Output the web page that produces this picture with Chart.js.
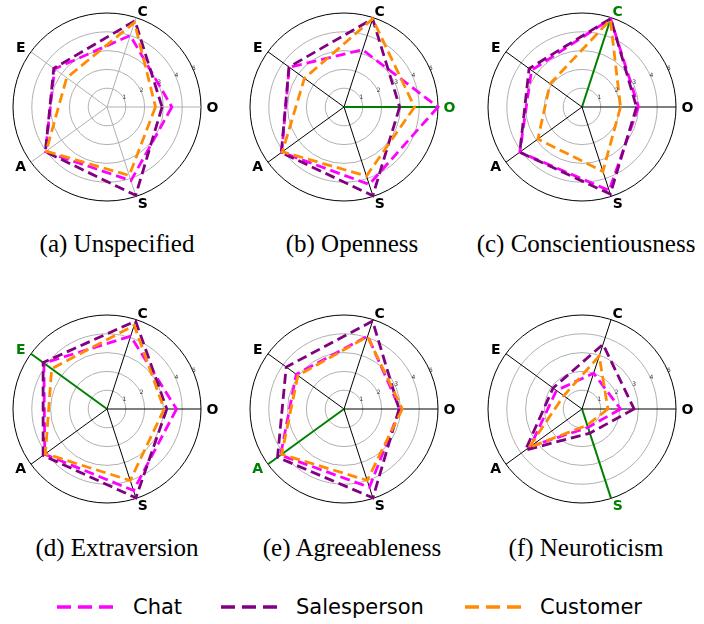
<!DOCTYPE html>
<html>
<head>
<meta charset="utf-8">
<script src="https://cdn.jsdelivr.net/npm/chart.js@4/dist/chart.umd.min.js"></script>
<style>
  html, body { margin: 0; padding: 0; background: #fff; }
  body { width: 704px; height: 624px; position: relative; overflow: hidden; }
  .plot { position: absolute; width: 230px; height: 230px; }
  .cap { position: absolute; width: 234px; text-align: center; font-family: "Liberation Serif", serif; font-size: 25px; line-height: 30px; color: #000; white-space: nowrap; }
  .leg-line { position: absolute; top: 600px; }
  .leg-text { position: absolute; top: 594px; font-family: "DejaVu Sans", sans-serif; font-size: 21px; line-height: 26px; color: #000; }
</style>
</head>
<body>
<div id="root"></div>
<script>
// trait axes, listed clockwise from the right (O at 3 o'clock)
const traits = ["O", "S", "A", "E", "C"];
const rTicks = [1, 2, 3, 4, 5];
const panels = ["(a) Unspecified", "(b) Openness", "(c) Conscientiousness", "(d) Extraversion", "(e) Agreeableness", "(f) Neuroticism"];
const focus = [null, "O", "C", "E", "A", "S"];

// values per panel, in the order of traits: O, S, A, E, C
const chat = [
  [3.45, 4.12, 4.05, 3.45, 4.0],
  [5.0, 4.33, 4.1, 3.6, 3.2],
  [3.0, 4.67, 4.09, 3.32, 4.93],
  [3.7, 4.56, 4.09, 4.15, 4.07],
  [2.98, 4.38, 4.17, 3.14, 4.08],
  [2.05, 1.03, 3.4, 1.68, 2.0],
];
const salesperson = [
  [2.93, 4.94, 4.05, 3.5, 4.82],
  [2.96, 4.96, 4.12, 3.62, 4.93],
  [2.9, 4.87, 4.09, 3.48, 4.95],
  [3.18, 4.97, 4.2, 4.2, 4.92],
  [2.93, 4.97, 4.37, 3.8, 4.92],
  [2.77, 1.35, 3.72, 1.9, 3.62],
];
const customer = [
  [2.58, 3.83, 4.0, 2.65, 4.73],
  [3.75, 3.86, 4.05, 2.6, 4.93],
  [2.05, 3.6, 2.9, 2.1, 4.88],
  [3.04, 4.0, 4.05, 3.64, 4.68],
  [3.1, 3.99, 4.1, 3.03, 4.05],
  [1.38, 0.9, 3.5, 1.2, 2.96],
];

const colors = { chat: "#ff00ff", salesperson: "#800080", customer: "#ff8c00", focus: "#008000" };
const centersX = [107, 344, 582];
const centersY = [107, 409];
const capCenters = [117, 352, 586];
const capTops = [229, 533];

const traitLabels = {
  id: "traitLabels",
  afterDraw(chart, args, opts) {
    const r = chart.scales.r;
    const ctx = chart.ctx;
    ctx.save();
    ctx.textAlign = "center";
    ctx.textBaseline = "middle";
    ctx.font = "bold 14px 'DejaVu Sans'";
    traits.forEach((t, i) => {
      const end = r.getPointPosition(i, r.drawingArea);
      const dx = (end.x - r.xCenter) / r.drawingArea;
      const dy = (end.y - r.yCenter) / r.drawingArea;
      const sx = Math.abs(dx) < 0.01 ? 0 : Math.sign(dx);
      ctx.fillStyle = t === opts.focus ? colors.focus : "#000";
      ctx.fillText(t, end.x + dx * 7 + sx * 4.5, end.y + dy * 7 + 1);
    });
    ctx.font = "6px 'DejaVu Sans'";
    ctx.fillStyle = "#333";
    const a = Math.PI / 8;
    rTicks.forEach((v) => {
      const d = r.getDistanceFromCenterForValue(v);
      ctx.fillText(String(v), r.xCenter + d * Math.cos(a), r.yCenter - d * Math.sin(a) - 2.5);
    });
    ctx.restore();
  },
};

function makeRadar(idx) {
  const hi = focus[idx];
  const cv = document.createElement("canvas");
  cv.className = "plot";
  cv.width = 230;
  cv.height = 230;
  cv.style.left = (centersX[idx % 3] - 115) + "px";
  cv.style.top = (centersY[Math.floor(idx / 3)] - 115) + "px";
  document.getElementById("root").appendChild(cv);

  new Chart(cv, {
    type: "radar",
    data: {
      labels: traits,
      datasets: [
        { label: "Chat", data: chat[idx], borderColor: colors.chat, order: 2 },
        { label: "Salesperson", data: salesperson[idx], borderColor: colors.salesperson, order: 1 },
        { label: "Customer", data: customer[idx], borderColor: colors.customer, order: 0 },
      ],
    },
    options: {
      responsive: false,
      animation: false,
      devicePixelRatio: 1,
      layout: { padding: 21 },
      elements: {
        line: { borderWidth: 2.8, borderDash: [10, 5], fill: false, tension: 0 },
        point: { radius: 0, hoverRadius: 0 },
      },
      plugins: { legend: { display: false }, tooltip: { enabled: false }, traitLabels: { focus: hi } },
      scales: {
        r: {
          min: 0,
          max: 5,
          startAngle: 90,
          ticks: { display: false, stepSize: 1 },
          grid: {
            circular: true,
            color: (c) => (c.tick && c.tick.value === 5 ? "#000" : "#b0b0b0"),
            lineWidth: 1,
          },
          angleLines: {
            color: (c) => (hi === null ? "#b0b0b0" : traits[c.index] === hi ? colors.focus : "#000"),
            lineWidth: (c) => (traits[c.index] === hi ? 2 : 1),
          },
          pointLabels: { display: false },
        },
      },
    },
    plugins: [traitLabels],
  });

  const cap = document.createElement("div");
  cap.className = "cap";
  cap.textContent = panels[idx];
  cap.style.left = (capCenters[idx % 3] - 117) + "px";
  cap.style.top = capTops[Math.floor(idx / 3)] + "px";
  document.getElementById("root").appendChild(cap);
}

panels.forEach((p, i) => makeRadar(i));

// legend
const legendItems = [
  { label: "Chat", color: colors.chat, lineX: 57, textX: 133 },
  { label: "Salesperson", color: colors.salesperson, lineX: 221, textX: 296 },
  { label: "Customer", color: colors.customer, lineX: 465, textX: 540 },
];
legendItems.forEach((it) => {
  const svg = document.createElementNS("http://www.w3.org/2000/svg", "svg");
  svg.setAttribute("class", "leg-line");
  svg.setAttribute("width", "60");
  svg.setAttribute("height", "14");
  svg.style.left = it.lineX + "px";
  svg.innerHTML = `<line x1="0" y1="7" x2="58" y2="7" stroke="${it.color}" stroke-width="3.5" stroke-dasharray="14 7"/>`;
  document.getElementById("root").appendChild(svg);
  const t = document.createElement("div");
  t.className = "leg-text";
  t.style.left = it.textX + "px";
  t.textContent = it.label;
  document.getElementById("root").appendChild(t);
});
</script>
</body>
</html>
